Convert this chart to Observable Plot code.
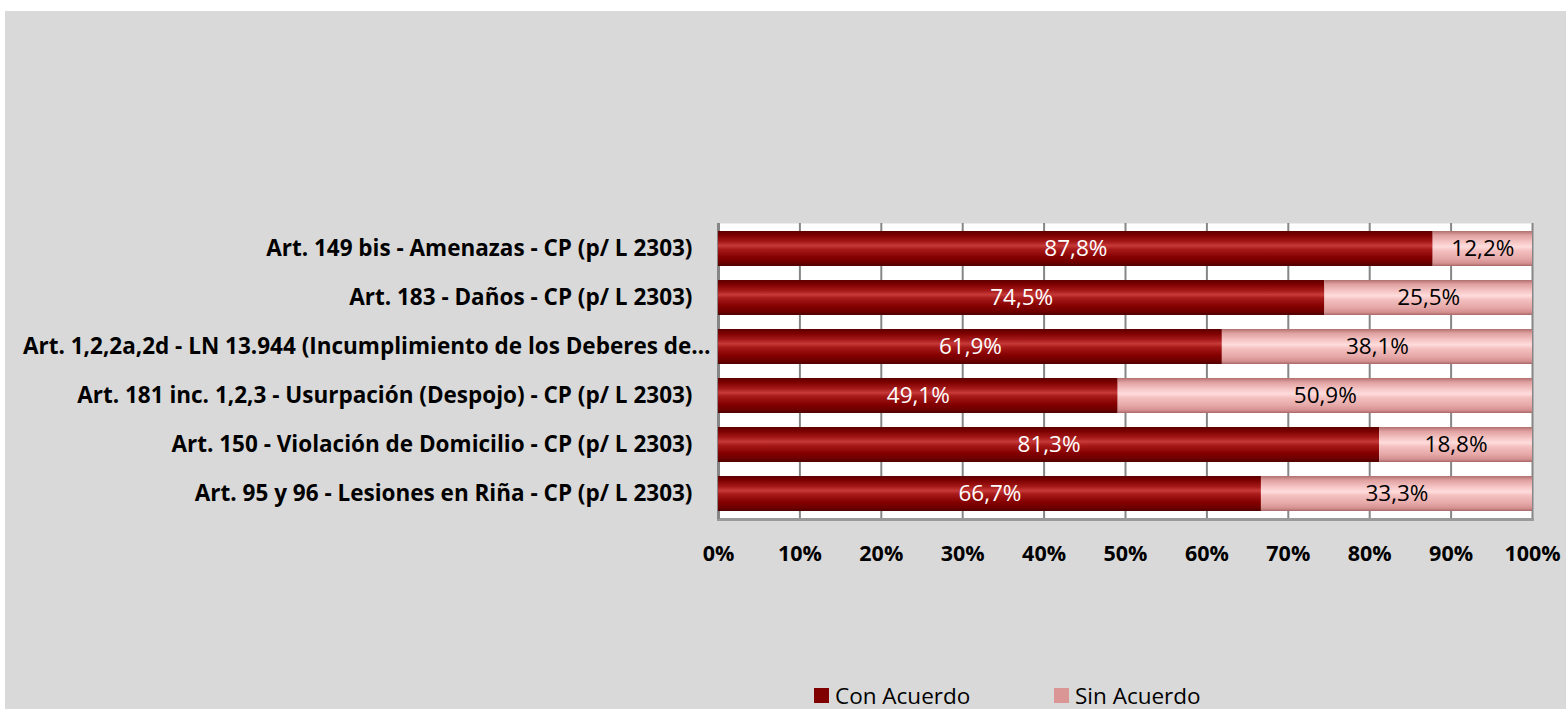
<!DOCTYPE html>
<html><head><meta charset="utf-8">
<script src="https://cdn.jsdelivr.net/npm/d3@7"></script>
<script src="https://cdn.jsdelivr.net/npm/@observablehq/plot@0.6"></script>
<style>
body{margin:0;background:#fff;}
#wrap{position:absolute;left:5px;top:11px;width:1561px;height:698px;background:#d9d9d9;font-family:"Open Sans","Liberation Sans",sans-serif;}
#legend{position:absolute;left:0;top:671px;height:27px;width:100%;}
.item{position:absolute;top:0;height:27px;line-height:27px;display:flex;align-items:center;font-size:22.5px;color:#000;}
.sw{width:15px;height:15px;margin-right:6px;}
</style></head><body>
<div id="wrap"><div id="chart"></div><div id="legend"></div></div>
<script>
const categories = [
  "Art. 149 bis - Amenazas - CP (p/ L 2303)",
  "Art. 183 - Daños - CP (p/ L 2303)",
  "Art. 1,2,2a,2d - LN 13.944 (Incumplimiento de los Deberes de…",
  "Art. 181 inc. 1,2,3 - Usurpación (Despojo) - CP (p/ L 2303)",
  "Art. 150 - Violación de Domicilio - CP (p/ L 2303)",
  "Art. 95 y 96 - Lesiones en Riña - CP (p/ L 2303)"
];
const truncatedLabel = "Art. 1,2,2a,2d - LN 13.944 (Incumplimiento de los Deberes de…";
const seriesNames = ["Con Acuerdo", "Sin Acuerdo"];
const conAcuerdo = [87.8, 74.5, 61.9, 49.1, 81.3, 66.7];
const sinAcuerdo = [12.2, 25.5, 38.1, 50.9, 18.8, 33.3];
const xTicks = [0, 0.1, 0.2, 0.3, 0.4, 0.5, 0.6, 0.7, 0.8, 0.9, 1];

const data = [];
categories.forEach((c, i) => {
  data.push({cat: c, series: seriesNames[0], value: conAcuerdo[i]});
  data.push({cat: c, series: seriesNames[1], value: sinAcuerdo[i]});
});
const fillFor = {"Con Acuerdo": "url(#gCon)", "Sin Acuerdo": "url(#gSin)"};
const textFor = {"Con Acuerdo": "#ffffff", "Sin Acuerdo": "#000000"};
const fmt = v => v.toFixed(1).replace(".", ",") + "%";
const font = "'Open Sans', 'Liberation Sans', sans-serif";

const svg = Plot.plot({
  width: 1561,
  height: 671,
  marginLeft: 713,
  marginRight: 34,
  marginTop: 212,
  marginBottom: 163,
  style: {background: "transparent", fontFamily: font, overflow: "visible"},
  x: {domain: [0, 1], label: null},
  y: {domain: categories, paddingInner: 0.29, paddingOuter: 0.145, axis: null, label: null},
  color: {type: "identity"},
  marks: [
    Plot.frame({fill: "white", stroke: null}),
    Plot.gridX({ticks: xTicks, stroke: "#868686", strokeWidth: 2, strokeOpacity: 1}),
    Plot.frame({anchor: "bottom", stroke: "#9a9a9a", strokeWidth: 3}),
    Plot.ruleX([0], {stroke: "#868686", strokeWidth: 3}),
    Plot.barX(data, Plot.stackX({offset: "normalize", x: "value", y: "cat", z: "series", order: seriesNames, fill: d => fillFor[d.series]})),
    Plot.text(data, Plot.stackX({offset: "normalize", x: "value", y: "cat", z: "series", order: seriesNames, text: d => fmt(d.value), fill: d => textFor[d.series], fontSize: 22.5})),
    Plot.axisX({ticks: xTicks, tickFormat: d => Math.round(d * 100) + "%", tickSize: 0, tickPadding: 26, fontSize: 21.5, fontWeight: "bold", fill: "#000", label: null}),
    Plot.text(categories.filter(c => c !== truncatedLabel), {y: d => d, text: d => d, frameAnchor: "left", textAnchor: "end", dx: -26, fontSize: 22.5, fontWeight: "bold", fill: "#000"}),
    Plot.text([truncatedLabel], {y: d => d, text: d => d, frameAnchor: "left", textAnchor: "end", dx: -8, fontSize: 22.5, fontWeight: "bold", fill: "#000"})
  ]
});

const defs = d3.select(svg).insert("defs", ":first-child");
function grad(id, stops) {
  const g = defs.append("linearGradient").attr("id", id).attr("x1", 0).attr("y1", 0).attr("x2", 0).attr("y2", 1);
  stops.forEach(([o, c]) => g.append("stop").attr("offset", o).attr("stop-color", c));
}
grad("gCon", [[0, "#5e0000"], [0.12, "#7c0000"], [0.3, "#a51818"], [0.42, "#c63a3a"], [0.52, "#a81a1a"], [0.75, "#840000"], [0.9, "#6e0000"], [1, "#4e0000"]]);
grad("gSin", [[0, "#b07070"], [0.12, "#e0a0a0"], [0.32, "#f6c6c6"], [0.45, "#ffdcdc"], [0.56, "#f4c0c0"], [0.78, "#e6a8a8"], [0.92, "#d49090"], [1, "#a86868"]]);

document.getElementById("chart").appendChild(svg);

const legend = document.getElementById("legend");
const legendColors = ["#800000", "#d99694"];
const legendLeft = [809, 1049];
seriesNames.forEach((s, i) => {
  const it = document.createElement("div");
  it.className = "item";
  it.style.left = legendLeft[i] + "px";
  it.innerHTML = `<span class="sw" style="background:${legendColors[i]}"></span><span>${s}</span>`;
  legend.appendChild(it);
});
</script>
</body></html>
